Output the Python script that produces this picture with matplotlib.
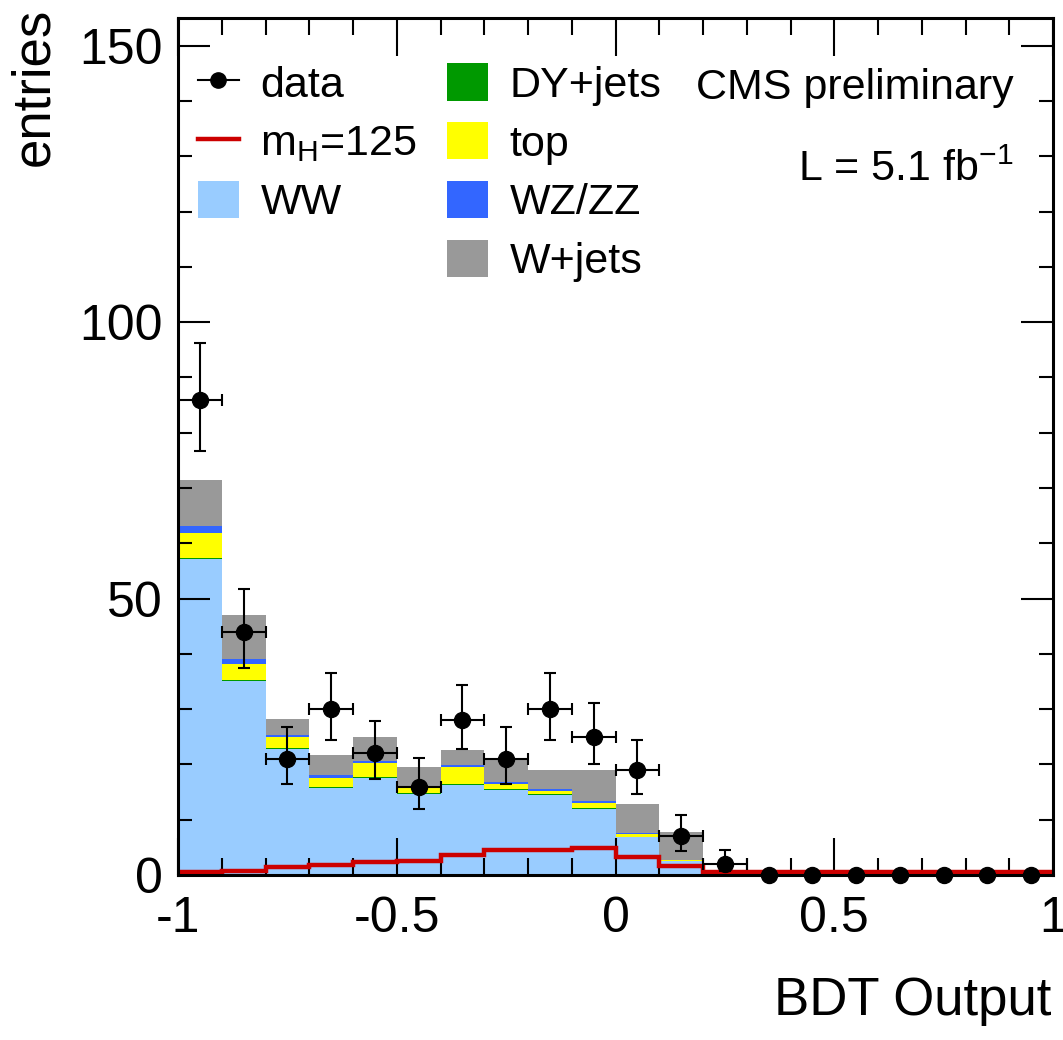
import numpy as np
import matplotlib
matplotlib.use("Agg")
import matplotlib.pyplot as plt
from matplotlib.lines import Line2D
from matplotlib.patches import Patch
from matplotlib.ticker import MultipleLocator

plt.rcParams['font.family'] = ['Liberation Sans', 'DejaVu Sans']
plt.rcParams['mathtext.fontset'] = 'custom'
plt.rcParams['mathtext.rm'] = 'Liberation Sans'
plt.rcParams['mathtext.it'] = 'Liberation Sans:italic'

# === Daten (20 bins von -1 bis 1) ===
edges = np.linspace(-1, 1, 21)
ww    = [57.1, 35.0, 22.7, 15.8, 17.6, 14.6, 16.2, 15.4, 14.4, 11.9, 6.8, 2.5, 0.1, 0, 0, 0, 0, 0, 0, 0]
dy    = [0.3, 0.3, 0.2, 0.2, 0.2, 0.2, 0.2, 0.2, 0.2, 0.2, 0.1, 0.1, 0, 0, 0, 0, 0, 0, 0, 0]
top   = [4.5, 2.9, 2.0, 1.6, 2.5, 1.1, 3.1, 0.8, 0.6, 1.0, 0.5, 0.1, 0, 0, 0, 0, 0, 0, 0, 0]
wzzz  = [1.3, 0.8, 0.4, 0.4, 0.3, 0.2, 0.4, 0.4, 0.3, 0.3, 0.2, 0.1, 0, 0, 0, 0, 0, 0, 0, 0]
wjets = [8.2, 8.1, 3.0, 3.7, 4.4, 3.4, 2.7, 4.0, 3.5, 5.6, 5.2, 5.0, 0, 0, 0, 0, 0, 0, 0, 0]
signal = [0.5, 0.8, 1.5, 1.8, 2.3, 2.6, 3.6, 4.6, 4.5, 4.8, 3.3, 1.6, 0.5, 0.5, 0.5, 0.5, 0.5, 0.5, 0.5, 0.5]
data  = [86, 44, 21, 30, 22, 16, 28, 21, 30, 25, 19, 7, 2, 0, 0, 0, 0, 0, 0, 0]
err_lo = [9.3, 6.6, 4.6, 5.5, 4.7, 4.0, 5.3, 4.6, 5.5, 5.0, 4.3, 2.6, 1.3, 0, 0, 0, 0, 0, 0, 0]
err_hi = [10.3, 7.7, 5.7, 6.5, 5.8, 5.1, 6.4, 5.7, 6.5, 6.1, 5.4, 3.8, 2.6, 0, 0, 0, 0, 0, 0, 0]

labels = ['WW', 'DY+jets', 'top', 'WZ/ZZ', 'W+jets']
farben = ['#99ccff', '#009900', '#ffff00', '#3366ff', '#999999']

fig = plt.figure(figsize=(10.63, 10.40), dpi=100)
ax = fig.add_axes([178/1063, 1-875/1040, (1053-178)/1063, (875-18)/1040])

centers = 0.5 * (edges[:-1] + edges[1:])
width = edges[1] - edges[0]

# gestapelte Untergruende
bottom = np.zeros(len(centers))
for vals, col in zip([ww, dy, top, wzzz, wjets], farben):
    vals = np.array(vals, dtype=float)
    ax.bar(edges[:-1], vals, width=width, bottom=bottom, align='edge',
           color=col, linewidth=0, zorder=1)
    bottom += vals

# Signal
ax.stairs(signal, edges, baseline=None, color='#cc0000', linewidth=3.2, zorder=2)

# Daten mit Fehlerbalken
data = np.array(data)
mask = data > 0
ax.errorbar(centers[mask], data[mask], xerr=width/2,
            yerr=[np.array(err_lo)[mask], np.array(err_hi)[mask]],
            fmt='none', ecolor='black', elinewidth=1.5, capsize=4, capthick=1.5, zorder=3)
ax.plot(centers, data, 'o', color='black', markersize=11.5, zorder=4, clip_on=False)

# Achsen
ax.set_xlim(-1, 1)
ax.set_ylim(0, 155)
ax.xaxis.set_major_locator(MultipleLocator(0.5))
ax.xaxis.set_minor_locator(MultipleLocator(0.1))
ax.yaxis.set_major_locator(MultipleLocator(50))
ax.yaxis.set_minor_locator(MultipleLocator(10))
ax.set_xticks([-1, -0.5, 0, 0.5, 1])
ax.set_xticklabels(['-1', '-0.5', '0', '0.5', '1'])
ax.tick_params(which='both', direction='in', top=True, right=True, labelsize=36, width=1.5)
ax.tick_params(axis='x', which='major', length=27, pad=15)
ax.tick_params(axis='x', which='minor', length=12)
ax.tick_params(axis='y', which='major', length=23, pad=11)
ax.tick_params(axis='y', which='minor', length=10)
for s in ax.spines.values():
    s.set_linewidth(2.2)
    s.set_zorder(5)

ax.set_ylabel('entries', fontsize=38, loc='top')
ax.yaxis.set_label_coords(-0.136, 1.012)
ax.set_xlabel('BDT Output', fontsize=38, loc='right')
ax.xaxis.set_label_coords(0.998, -0.118)

# Legende
h1 = [Line2D([], [], color='black', marker='o', markersize=11, linewidth=1.5),
      Line2D([], [], color='#cc0000', linewidth=3.2),
      Patch(facecolor=farben[0], edgecolor='none')]
leg1 = ax.legend(h1, ['data', r'm$_\mathrm{H}$=125', 'WW'], loc='upper left',
                 bbox_to_anchor=(0.008, 0.962), frameon=False, fontsize=31,
                 handlelength=0.95, handleheight=0.95, handletextpad=0.5,
                 labelspacing=0.38, borderaxespad=0.0, borderpad=0.3)
ax.add_artist(leg1)
h2 = [Patch(facecolor=c, edgecolor='none') for c in farben[1:]]
ax.legend(h2, labels[1:], loc='upper left', bbox_to_anchor=(0.293, 0.962),
          frameon=False, fontsize=31, handlelength=0.95, handleheight=0.95,
          handletextpad=0.5, labelspacing=0.38, borderaxespad=0.0, borderpad=0.3)

ax.text(0.955, 0.918, 'CMS preliminary', transform=ax.transAxes, fontsize=31,
        ha='right', va='center')
ax.text(0.955, 0.823, r'L = 5.1 fb$^{\mathrm{-1}}$', transform=ax.transAxes, fontsize=31,
        ha='right', va='center')

fig.savefig('out.png', dpi=100)
